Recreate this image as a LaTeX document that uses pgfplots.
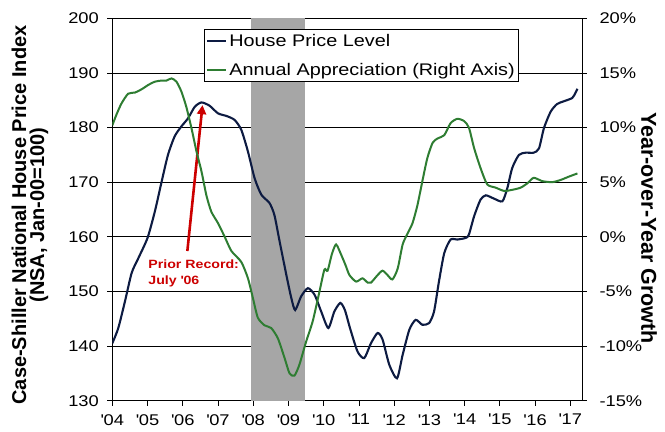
\documentclass[border=0pt]{standalone}
\usepackage{fontspec}
\setmainfont{Liberation Sans}[FakeStretch=1.18]
\newfontfamily\titlefont{Liberation Sans}
\usepackage{pgfplots}
\pgfplotsset{compat=1.18}
\usetikzlibrary{arrows.meta}
\definecolor{navy}{RGB}{13,27,66}
\definecolor{grn}{RGB}{46,125,50}
\definecolor{band}{RGB}{166,166,166}
\definecolor{rec}{RGB}{204,0,0}
\newcommand{\q}{\textquotesingle}
\pgfplotstableread{
x y
2004.00 140.5
2004.17 143.3
2004.36 148.2
2004.55 153.4
2004.74 156.1
2005.00 159.8
2005.21 164.7
2005.40 170.1
2005.58 175.0
2005.77 178.4
2005.96 180.2
2006.15 181.7
2006.34 183.8
2006.53 184.6
2006.76 184.0
2007.00 182.6
2007.25 182.1
2007.47 181.4
2007.66 179.6
2007.85 175.6
2008.04 170.7
2008.23 167.7
2008.46 166.2
2008.60 164.0
2008.75 159.1
2008.94 153.0
2009.08 148.8
2009.19 146.6
2009.36 149.1
2009.55 150.6
2009.74 149.4
2009.93 146.3
2010.13 143.3
2010.30 146.3
2010.47 147.9
2010.60 146.6
2010.75 143.2
2010.96 139.0
2011.15 137.8
2011.34 140.5
2011.53 142.4
2011.67 141.2
2011.86 136.6
2012.08 134.1
2012.24 138.4
2012.43 143.0
2012.61 144.8
2012.80 143.9
2012.99 144.2
2013.13 146.3
2013.27 151.8
2013.42 157.0
2013.60 159.5
2013.79 159.5
2014.03 159.8
2014.12 160.4
2014.27 163.8
2014.45 166.8
2014.60 167.6
2014.83 167.0
2015.07 166.5
2015.21 168.9
2015.35 172.6
2015.54 175.0
2015.73 175.4
2015.96 175.4
2016.11 176.2
2016.25 179.9
2016.44 182.9
2016.62 184.3
2016.81 184.8
2017.05 185.4
2017.14 186.3
2017.20 187.1
}\hpi
\pgfplotstableread{
x y
2004.00 10.2
2004.12 11.2
2004.26 12.2
2004.45 13.1
2004.64 13.2
2004.83 13.5
2005.02 13.9
2005.21 14.2
2005.40 14.3
2005.54 14.3
2005.68 14.5
2005.82 14.2
2005.96 13.3
2006.10 11.9
2006.25 9.9
2006.39 7.8
2006.53 6.0
2006.67 3.8
2006.81 2.3
2007.00 1.25
2007.19 0.0
2007.38 -1.3
2007.66 -2.3
2007.85 -3.8
2007.99 -5.6
2008.13 -7.4
2008.32 -8.1
2008.51 -8.35
2008.70 -9.3
2008.89 -11.1
2009.03 -12.5
2009.17 -12.7
2009.31 -11.7
2009.50 -9.6
2009.69 -7.7
2009.88 -5.0
2010.02 -3.0
2010.11 -3.1
2010.23 -1.6
2010.35 -0.7
2010.49 -1.6
2010.62 -2.6
2010.73 -3.5
2010.92 -4.1
2011.10 -3.8
2011.25 -4.2
2011.34 -4.2
2011.53 -3.5
2011.67 -3.1
2011.81 -3.5
2011.95 -3.9
2012.10 -2.9
2012.24 -0.7
2012.38 0.3
2012.52 1.25
2012.66 2.9
2012.80 5.1
2012.94 7.2
2013.09 8.6
2013.23 9.0
2013.42 9.3
2013.60 10.4
2013.79 10.8
2013.98 10.6
2014.12 10.0
2014.27 8.1
2014.45 6.3
2014.64 4.8
2014.88 4.5
2015.12 4.2
2015.35 4.3
2015.59 4.5
2015.78 4.9
2015.96 5.4
2016.20 5.1
2016.48 5.0
2016.72 5.2
2016.95 5.5
2017.20 5.8
}\yoy
\begin{document}
\begin{tikzpicture}
\useasboundingbox (0,0) rectangle (665bp,432bp);
\pgfplotsset{
  base/.style={
    scale only axis, width=469.7bp, height=382.4bp,
    at={(112.3bp,31.3bp)}, anchor=south west,
    xmin=2004, xmax=2017.33,
    tick align=outside, major tick length=5bp,
    tick style={black, line width=0.8bp},
    tick label style={font=\fontsize{15.5bp}{18bp}\selectfont},
    axis line style={black, line width=1bp},
  }
}
\begin{axis}[base, ymin=130, ymax=200,
  ytick={130,140,...,200}, yticklabels={130,140,150,160,170,180,190,200},
  ytick pos=left, xtick pos=bottom,
  xtick={2004,2005,...,2017},
  xticklabels={\q04,\q05,\q06,\q07,\q08,\q09,\q10,\q11,\q12,\q13,\q14,\q15,\q16,\q17},
  xticklabel style={yshift=-5bp},
  yticklabel style={xshift=-5bp},
  ymajorgrids, grid style={black, line width=0.8bp}]
\fill[band] (axis cs:2007.93,130) rectangle (axis cs:2009.46,200);
\addplot[navy, line width=2.1bp, smooth, tension=0.4] table[x=x,y=y] {\hpi};
\draw[rec, line width=2.6bp, -{Triangle[length=9bp,width=9bp]}] (axis cs:2006.13,157.4) -- (axis cs:2006.56,184.1);
\node[anchor=base west, text=rec, font=\bfseries\fontsize{12bp}{14bp}\selectfont, inner sep=0pt] at (axis cs:2005.02,154.24) {Prior Record:};
\node[anchor=base west, text=rec, font=\bfseries\fontsize{12bp}{14bp}\selectfont, inner sep=0pt] at (axis cs:2005.02,151.31) {July \q06};
\end{axis}
\begin{axis}[base, ymin=-15, ymax=20, axis x line=none, axis y line*=right,
  ytick={-15,-10,...,20},
  yticklabels={-15\%,-10\%,-5\%,0\%,5\%,10\%,15\%,20\%},
  yticklabel style={xshift=9bp},
  legend cell align=left,
  legend image code/.code={\draw[#1] (0bp,0bp) -- (19bp,0bp);},
  legend style={at={(0.195,0.972)}, anchor=north west, draw=black, line width=0.8bp,
    font=\fontsize{16.8bp}{19bp}\selectfont, inner xsep=2bp, inner ysep=3bp, row sep=11bp}]
\addlegendimage{navy, line width=2.1bp}
\addlegendentry{House Price Level}
\addplot[grn, line width=2bp, smooth, tension=0.4] table[x=x,y=y] {\yoy};
\addlegendentry{Annual Appreciation (Right Axis)}
\end{axis}
\node[rotate=90, align=center, inner sep=0pt, font=\titlefont\bfseries\fontsize{20bp}{18bp}\selectfont] at (30bp,217bp) {Case-Shiller National House Price Index\\(NSA, Jan-00=100)};
\node[rotate=-90, inner sep=0pt, font=\titlefont\bfseries\fontsize{21.5bp}{24bp}\selectfont] at (649bp,204bp) {Year-over-Year Growth};
\end{tikzpicture}
\end{document}
